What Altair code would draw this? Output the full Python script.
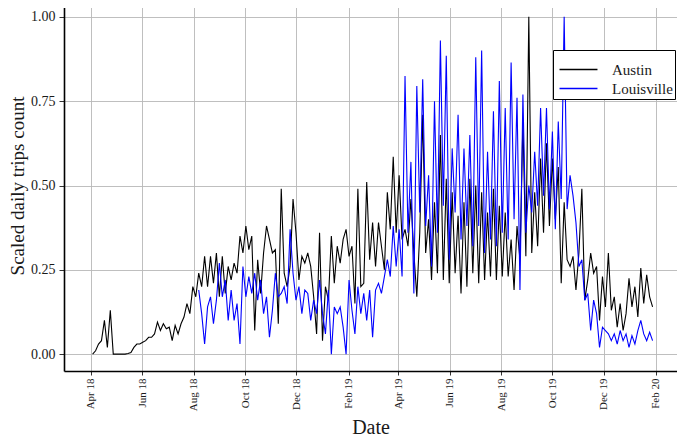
import altair as alt
import pandas as pd

# Scaled daily trips (sampled every 3.5 days)
austin_start = "2018-04-03"
louisville_start = "2018-08-07"
step = "84h"

austin = [
    0.00, 0.01, 0.03, 0.04, 0.10, 0.02, 0.13, 0.00, 0.00, 0.00,
    0.00, 0.00, 0.002, 0.005, 0.02, 0.03, 0.03, 0.035, 0.04, 0.05,
    0.05, 0.06, 0.095, 0.07, 0.09, 0.075, 0.08, 0.04, 0.085, 0.06,
    0.09, 0.11, 0.15, 0.12, 0.20, 0.17, 0.24, 0.20, 0.29, 0.20,
    0.29, 0.21, 0.30, 0.17, 0.29, 0.18, 0.26, 0.22, 0.27, 0.24,
    0.35, 0.30, 0.38, 0.31, 0.35, 0.07, 0.28, 0.18, 0.30, 0.38,
    0.34, 0.30, 0.31, 0.09, 0.49, 0.24, 0.20, 0.26, 0.46, 0.36,
    0.22, 0.29, 0.27, 0.30, 0.26, 0.17, 0.06, 0.36, 0.04, 0.20,
    0.16, 0.35, 0.21, 0.32, 0.27, 0.34, 0.37, 0.29, 0.32, 0.15,
    0.49, 0.20, 0.21, 0.51, 0.28, 0.39, 0.26, 0.39, 0.32, 0.25,
    0.48, 0.37, 0.585, 0.36, 0.53, 0.34, 0.37, 0.32, 0.46, 0.30,
    0.17, 0.36, 0.71, 0.30, 0.40, 0.22, 0.45, 0.24, 0.65, 0.22,
    0.52, 0.21, 0.48, 0.24, 0.41, 0.18, 0.45, 0.20, 0.52, 0.24,
    0.50, 0.21, 0.48, 0.22, 0.42, 0.23, 0.49, 0.22, 0.44, 0.23,
    0.42, 0.23, 0.34, 0.19, 0.38, 0.28, 0.69, 0.29, 1.00, 0.30,
    0.48, 0.32, 0.58, 0.36, 0.625, 0.38, 0.58, 0.40, 0.555, 0.21,
    0.45, 0.28, 0.26, 0.29, 0.19, 0.30, 0.49, 0.16, 0.22, 0.30,
    0.24, 0.26, 0.10, 0.23, 0.14, 0.30, 0.13, 0.17, 0.08, 0.15,
    0.07, 0.12, 0.225, 0.14, 0.20, 0.11, 0.255, 0.15, 0.235, 0.17, 0.14,
]

louisville = [
    0.19, 0.12, 0.03, 0.14,
    0.17, 0.09, 0.16, 0.27, 0.17, 0.22, 0.10, 0.19, 0.10, 0.15,
    0.03, 0.26, 0.17, 0.23, 0.18, 0.24, 0.16, 0.22, 0.12, 0.17,
    0.05, 0.13, 0.24, 0.17, 0.18, 0.20, 0.15, 0.37, 0.24, 0.16,
    0.20, 0.12, 0.19, 0.18, 0.10, 0.16, 0.12, 0.22, 0.12, 0.06,
    0.19, 0.00, 0.14, 0.12, 0.14, 0.08, 0.00, 0.22, 0.13, 0.06,
    0.20, 0.12, 0.18, 0.10, 0.19, 0.05, 0.19, 0.21, 0.18, 0.23,
    0.28, 0.23, 0.38, 0.26, 0.37, 0.23, 0.825, 0.36, 0.57, 0.18,
    0.795, 0.42, 0.815, 0.38, 0.53, 0.26, 0.75, 0.36, 0.93, 0.44,
    0.885, 0.28, 0.61, 0.42, 0.71, 0.34, 0.61, 0.38, 0.65, 0.32,
    0.88, 0.38, 0.90, 0.30, 0.60, 0.34, 0.72, 0.32, 0.81, 0.36,
    0.73, 0.34, 0.865, 0.40, 0.76, 0.19, 0.77, 0.36, 0.50, 0.42,
    0.60, 0.44, 0.73, 0.47, 0.73, 0.43, 0.66, 0.37, 0.69, 0.46,
    1.00, 0.43, 0.53, 0.47, 0.39, 0.26, 0.28, 0.16, 0.18, 0.07,
    0.16, 0.12, 0.02, 0.08, 0.07, 0.06, 0.04, 0.06, 0.03, 0.07,
    0.04, 0.06, 0.02, 0.055, 0.03, 0.07, 0.10, 0.06, 0.04, 0.065, 0.04,
]

cities = ["Austin", "Louisville"]
colors = ["black", "blue"]
tick_months = [(2018, 4), (2018, 6), (2018, 8), (2018, 10), (2018, 12),
               (2019, 2), (2019, 4), (2019, 6), (2019, 8), (2019, 10),
               (2019, 12), (2020, 2)]
y_ticks = [0.0, 0.25, 0.5, 0.75, 1.0]

a_dates = pd.date_range(austin_start, periods=len(austin), freq=step)
l_dates = pd.date_range(louisville_start, periods=len(louisville), freq=step)
df = pd.concat([
    pd.DataFrame({"date": a_dates.strftime("%Y-%m-%dT%H:%M:%S"), "value": austin, "city": "Austin"}),
    pd.DataFrame({"date": l_dates.strftime("%Y-%m-%dT%H:%M:%S"), "value": louisville, "city": "Louisville"}),
])

FONT = "Liberation Serif"

chart = alt.Chart(df).mark_line(strokeWidth=1.1).encode(
    x=alt.X(
        "date:T",
        scale=alt.Scale(domain=[alt.DateTime(year=2018, month=2, date=28),
                                alt.DateTime(year=2020, month=2, date=26)]),
        axis=alt.Axis(
            values=[alt.DateTime(year=y, month=m, date=1) for y, m in tick_months],
            format="%b %y", labelAngle=-90, title="Date",
            labelFontSize=11, titleFontSize=20, tickSize=4, labelPadding=3,
            titlePadding=7,
        ),
    ),
    y=alt.Y(
        "value:Q",
        scale=alt.Scale(domain=[-0.05, 1.05], nice=False, zero=False),
        axis=alt.Axis(
            values=y_ticks, format=".2f", title="Scaled daily trips count",
            labelFontSize=14, titleFontSize=19, tickSize=5, labelPadding=4,
            titlePadding=3,
        ),
    ),
    color=alt.Color(
        "city:N",
        scale=alt.Scale(domain=cities, range=colors),
        legend=alt.Legend(
            title=" ", orient="none", legendX=489, legendY=50,
            strokeColor="black", fillColor="white", padding=2,
            symbolType="M-4,0H4", symbolSize=90, symbolStrokeWidth=1.3,
            symbolOffset=16, labelOffset=26, labelFontSize=15,
            titleFontSize=8, titlePadding=2, rowPadding=3,
        ),
    ),
).properties(
    width=613, height=371,
    padding={"left": 56, "top": -8, "right": 0, "bottom": 67},
    autosize="none",
).configure(
    font=FONT,
).configure_axis(
    labelFont=FONT, titleFont=FONT, labelColor="#1a1a1a", titleColor="#1a1a1a",
    titleFontWeight="normal",
    domainColor="black", domainWidth=1.6, tickColor="#333333", tickWidth=1,
    gridColor="#b8b8b8", gridWidth=0.9,
).configure_legend(
    labelFont=FONT, titleFont=FONT, labelColor="#1a1a1a",
).configure_view(
    strokeWidth=0,
)

chart.save("out.html", embed_options={"renderer": "svg", "actions": False})
